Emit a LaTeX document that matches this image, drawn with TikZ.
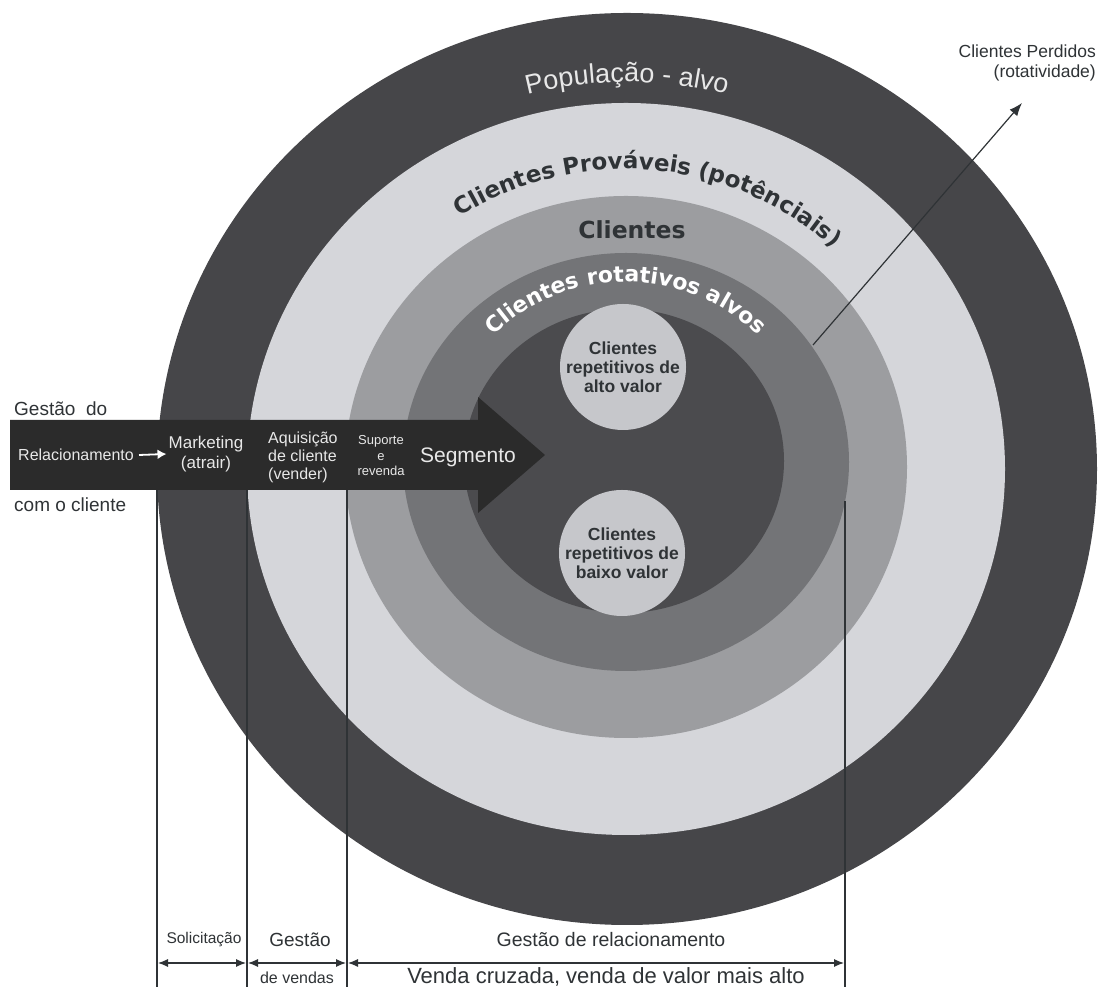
\documentclass[tikz,border=0pt]{standalone}
\usepackage{fontspec}
\setmainfont{Liberation Sans}
\newfontfamily\ringfamily{DejaVu Sans}
\usetikzlibrary{decorations.text,arrows.meta}

\definecolor{ringouter}{HTML}{464649}
\definecolor{ringlight}{HTML}{D5D6DA}
\definecolor{ringmid}{HTML}{9C9DA0}
\definecolor{ringrot}{HTML}{737477}
\definecolor{ringcore}{HTML}{4B4B4E}
\definecolor{smallcirc}{HTML}{C6C7CB}
\definecolor{bandcol}{HTML}{2B2B2B}
\definecolor{inktext}{HTML}{2F3336}
\definecolor{paletext}{HTML}{E8E8E8}

\newcommand\popfont{\fontsize{27pt}{30pt}\selectfont}
\newcommand\provfont{\ringfamily\bfseries\fontsize{23pt}{26pt}\selectfont}
\newcommand\rotfont{\ringfamily\bfseries\fontsize{22pt}{25pt}\selectfont}

\tikzset{
  bandtxt/.style={text=paletext, align=center, inner sep=0pt},
  inktxt/.style={text=inktext, inner sep=0pt},
  divider/.style={draw=inktext, line width=1.1pt},
  spanarrow/.style={draw=inktext, line width=1.1pt,
    {Latex[length=10pt,width=8pt]}-{Latex[length=10pt,width=8pt]}},
  repcircle/.style={circle, fill=smallcirc, minimum size=126pt, inner sep=0pt,
    align=center, text=inktext, font=\bfseries\fontsize{17.5pt}{19pt}\selectfont},
}

\begin{document}
\begin{tikzpicture}[x=1pt,y=1pt]
\useasboundingbox (0,0) rectangle (1100,987);
\fill[white] (0,0) rectangle (1100,987);

% concentric rings
\fill[ringouter] (627,518) ellipse [x radius=470, y radius=456];
\fill[ringlight] (626,518) ellipse [x radius=379, y radius=366];
\fill[ringmid]   (626,520) ellipse [x radius=281, y radius=271];
\fill[ringrot]   (626,525) ellipse [x radius=223, y radius=209];
\fill[ringcore]  (624,526) ellipse [x radius=160, y radius=152];

% ring labels
\path[decorate, decoration={text along path, text align=center, text color=paletext,
    text={|\popfont|População - alvo}}]
  (627,518) ++(170:397 and 387) arc[start angle=170, end angle=10, x radius=397, y radius=387];
\path[decorate, decoration={text along path, text align=center, text color=inktext,
    text={|\provfont|Clientes Prováveis (potênciais)}}]
  (626,520) ++(165:305 and 298) arc[start angle=165, end angle=5, x radius=305, y radius=298];
\node[inktxt, font=\ringfamily\bfseries\fontsize{23.5pt}{26pt}\selectfont] (clientes) at (632,757) {Clientes};
\path[decorate, decoration={text along path, text align=center, text color=white,
    text={|\rotfont|Clientes rotativos alvos}}]
  (626,525) ++(170:186 and 180) arc[start angle=170, end angle=10, x radius=186, y radius=180];

% repeat-customer circles
\node[repcircle] (alto) at (623,620) {Clientes\\repetitivos de\\alto valor};
\node[repcircle] (baixo) at (622,434) {Clientes\\repetitivos de\\baixo valor};

% lost customers
\coordinate (lostfrom) at (813,642);
\coordinate (lostto) at (1022,884);
\draw[draw=inktext, line width=1.2pt, -{Latex[length=13pt,width=10pt]}] (lostfrom) -- (lostto);
\node[inktxt, align=right, anchor=north east, font=\fontsize{17.5pt}{20pt}\selectfont] (perdidos) at (1096,942)
  {Clientes Perdidos\\(rotatividade)};

% relationship arrow band
\fill[bandcol] (10,497) -- (478,497) -- (478,474) -- (545,532) -- (478,590) -- (478,567) -- (10,567) -- cycle;
\node[bandtxt, anchor=west, font=\fontsize{16pt}{18pt}\selectfont] (rel) at (18,532) {Relacionamento};
\node[bandtxt, font=\fontsize{17pt}{20pt}\selectfont] (mkt) at (206,533) {Marketing\\(atrair)};
\draw[white, line width=1.8pt, -{Latex[length=9pt,width=10pt]}] ([xshift=5pt]rel.east) -- ([xshift=-2pt]mkt.west);
\node[bandtxt, align=left, anchor=west, font=\fontsize{16pt}{18pt}\selectfont] (aquis) at (268,530) {Aquisição\\de cliente\\(vender)};
\node[bandtxt, font=\fontsize{13pt}{15.5pt}\selectfont] (suporte) at (381,531) {Suporte\\e\\revenda};
\node[bandtxt, font=\fontsize{21pt}{24pt}\selectfont] (segm) at (468,530) {Segmento};

\node[inktxt, anchor=base west, font=\fontsize{19pt}{22pt}\selectfont] (gestdo) at (14,571) {Gestão\ \ do};
\node[inktxt, anchor=base west, font=\fontsize{19pt}{22pt}\selectfont] (comcli) at (14,475) {com o cliente};

% stage dividers
\coordinate (d1t) at (157,497); \coordinate (d1b) at (157,0);
\coordinate (d2t) at (247,497); \coordinate (d2b) at (247,0);
\coordinate (d3t) at (347,497); \coordinate (d3b) at (347,0);
\coordinate (d4t) at (845,486); \coordinate (d4b) at (845,0);
\draw[divider] (d1t) -- (d1b);
\draw[divider] (d2t) -- (d2b);
\draw[divider] (d3t) -- (d3b);
\draw[divider] (d4t) -- (d4b);

% stage spans
\coordinate (s1) at (158,24); \coordinate (s2) at (246,24);
\coordinate (s3) at (248,24); \coordinate (s4) at (346,24);
\coordinate (s5) at (348,24); \coordinate (s6) at (844,24);
\draw[spanarrow] (s1) -- (s2);
\draw[spanarrow] (s3) -- (s4);
\draw[spanarrow] (s5) -- (s6);

\node[inktxt, font=\fontsize{15.5pt}{17pt}\selectfont] (solic) at (204,47) {Solicitação};
\node[inktxt, font=\fontsize{19pt}{21pt}\selectfont] (gestv) at (300,47) {Gestão};
\node[inktxt, font=\fontsize{16pt}{18pt}\selectfont] (devend) at (297,9) {de vendas};
\node[inktxt, font=\fontsize{19.5pt}{22pt}\selectfont] (gestrel) at (611,47) {Gestão de relacionamento};
\node[inktxt, font=\fontsize{22pt}{24pt}\selectfont] (venda) at (606,10) {Venda cruzada, venda de valor mais alto};
\end{tikzpicture}
\end{document}
